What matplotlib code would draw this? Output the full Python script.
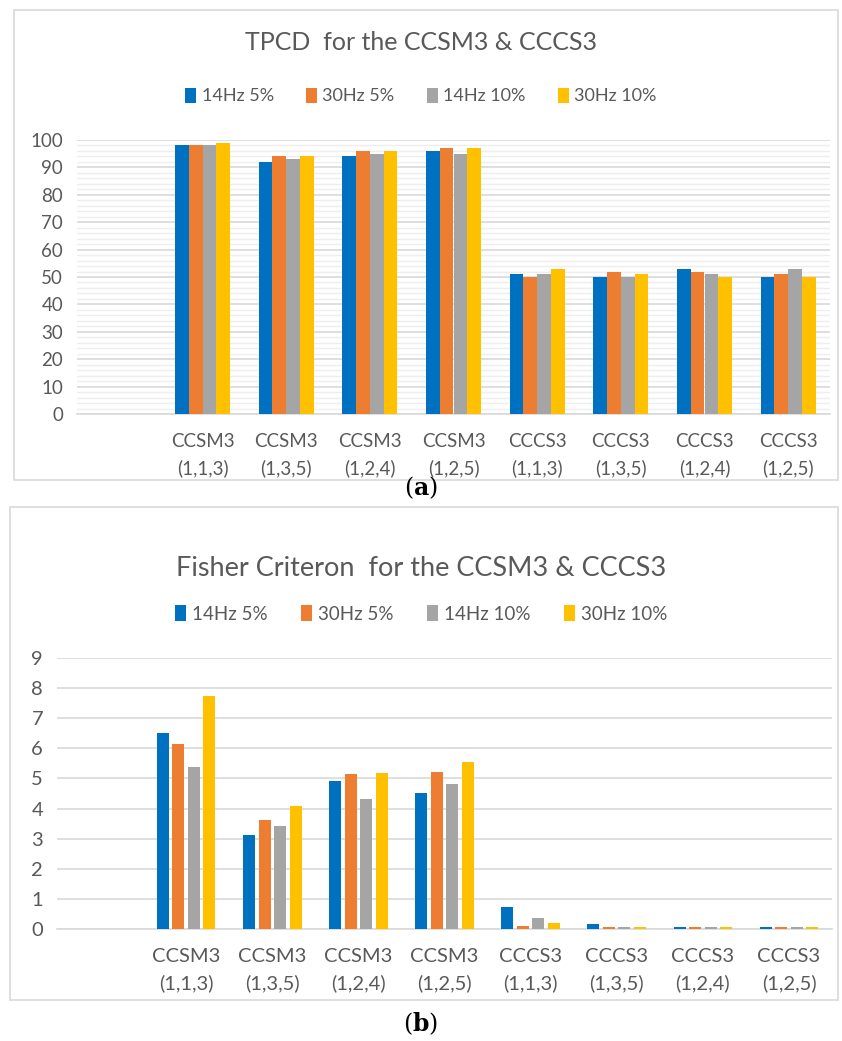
import numpy as np
import matplotlib.pyplot as plt
from matplotlib.patches import Rectangle

plt.rcParams['font.family'] = ['Lato', 'DejaVu Sans']

categories = ['CCSM3\n(1,1,3)', 'CCSM3\n(1,3,5)', 'CCSM3\n(1,2,4)', 'CCSM3\n(1,2,5)',
              'CCCS3\n(1,1,3)', 'CCCS3\n(1,3,5)', 'CCCS3\n(1,2,4)', 'CCCS3\n(1,2,5)']
series = ['14Hz 5%', '30Hz 5%', '14Hz 10%', '30Hz 10%']
colors = ['#0070C0', '#ED7D31', '#A5A5A5', '#FFC000']

# TPCD (%)
tpcd_14_5 = [98, 92, 94, 96, 51, 50, 53, 50]
tpcd_30_5 = [98, 94, 96, 97, 50, 52, 52, 51]
tpcd_14_10 = [98, 93, 95, 95, 51, 50, 51, 53]
tpcd_30_10 = [99, 94, 96, 97, 53, 51, 50, 50]

# Fisher criterion
fis_14_5 = [6.52, 3.11, 4.92, 4.52, 0.72, 0.18, 0.08, 0.08]
fis_30_5 = [6.14, 3.63, 5.14, 5.20, 0.11, 0.08, 0.08, 0.08]
fis_14_10 = [5.38, 3.42, 4.33, 4.83, 0.37, 0.08, 0.08, 0.08]
fis_30_10 = [7.73, 4.09, 5.17, 5.54, 0.19, 0.08, 0.08, 0.08]

W, H = 842, 1041
fig = plt.figure(figsize=(W / 100, H / 100), dpi=100)
txt = '#595959'


def px(x0, y0, x1, y1):
    # pixel box (top-left origin) -> figure fraction rect
    return [x0 / W, 1 - y1 / H, (x1 - x0) / W, (y1 - y0) / H]


def panel(rect, data, ylim, step, title, tsize, ty, ly, lsize, fsize, minor, bw, off):
    ax = fig.add_axes(rect)
    x = np.arange(len(categories))
    for i, (vals, c, name) in enumerate(zip(data, colors, series)):
        ax.bar(x + (i - 1.5) * off, vals, width=bw, color=c, label=name, zorder=3)
    ax.set_xlim(-1.5, len(categories) - 0.5)
    ax.set_ylim(0, ylim)
    ax.set_yticks(np.arange(0, ylim + step / 2, step))
    if minor:
        ax.set_yticks(np.arange(0, ylim + 0.1, minor), minor=True)
        ax.grid(axis='y', which='minor', color='#eeeeee', lw=1.0, zorder=0)
    ax.grid(axis='y', which='major', color='#d9d9d9', lw=1.2, zorder=1)
    ax.set_xticks(x)
    ax.set_xticklabels(categories, color=txt, fontsize=fsize, linespacing=1.6)
    ax.tick_params(axis='y', labelcolor=txt, labelsize=fsize, length=0, pad=10)
    ax.tick_params(axis='x', which='both', length=0, pad=14)
    ax.tick_params(axis='y', which='minor', length=0)
    for s in ['top', 'right', 'left']:
        ax.spines[s].set_visible(False)
    ax.spines['bottom'].set_color('#d9d9d9')
    ax.spines['bottom'].set_linewidth(1.2)
    fig.text(0.5, 1 - ty / H, title, ha='center', va='center', fontsize=tsize, color=txt)
    fig.legend(*ax.get_legend_handles_labels(), loc='center', bbox_to_anchor=(0.5, 1 - ly / H),
               ncol=4, frameon=False, fontsize=lsize, labelcolor=txt, handlelength=0.6,
               handleheight=0.9, handletextpad=0.3, columnspacing=1.8)
    return ax


# panel borders
fig.patches.append(Rectangle((14 / W, 1 - 480 / H), 824 / W, 470 / H, transform=fig.transFigure,
                             fill=False, edgecolor='#d9d9d9', lw=1.2))
fig.patches.append(Rectangle((10 / W, 1 - 1000 / H), 828 / W, 493 / H, transform=fig.transFigure,
                             fill=False, edgecolor='#d9d9d9', lw=1.2))

panel(px(77, 140, 830, 414), [tpcd_14_5, tpcd_30_5, tpcd_14_10, tpcd_30_10], 100, 10,
      'TPCD  for the CCSM3 & CCCS3', 18, 42, 96, 13, 13.5, 2, 0.165, 0.165)
panel(px(57, 658, 832, 929), [fis_14_5, fis_30_5, fis_14_10, fis_30_10], 9, 1,
      'Fisher Criteron  for the CCSM3 & CCCS3', 19.5, 568, 614, 13.5, 14.5, None, 0.14, 0.18)

fig.text(0.5, 1 - 488 / H, r'($\mathbf{a}$)', ha='center', va='center', fontsize=17,
         family='DejaVu Serif', math_fontfamily='dejavuserif')
fig.text(0.5, 1 - 1024 / H, r'($\mathbf{b}$)', ha='center', va='center', fontsize=17,
         family='DejaVu Serif', math_fontfamily='dejavuserif')

fig.savefig('out.png', dpi=100)
